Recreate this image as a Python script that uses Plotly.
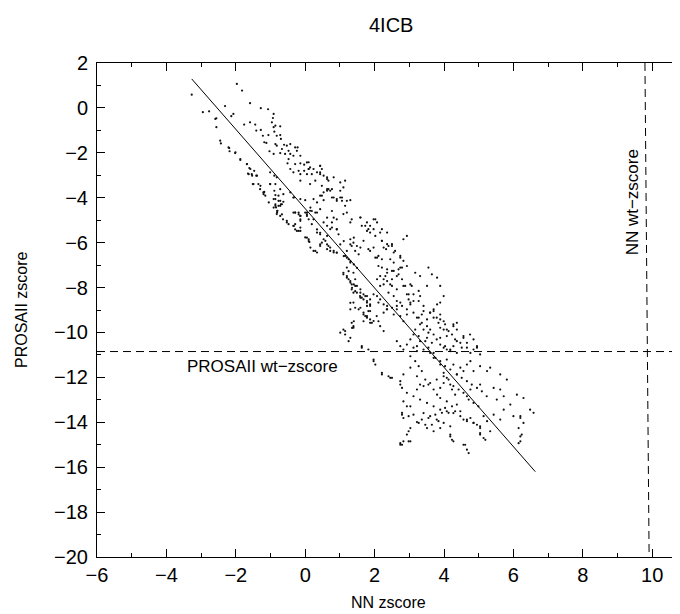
import plotly.graph_objects as go

# ---- data (NN zscore, PROSAII zscore) ----
nn_z = [
 -3.27,-1.97,-1.82,-2.31,-1.59,-2.95,-2.77,-2.56,-2.07,-2.13,-1.28,-1.07,-0.91,-0.93,-1.76,-1.59,-1.44,
 -0.96,-0.86,-0.91,-0.72,-2.56,-1.28,-1.41,-0.89,-0.82,-0.72,-0.70,-1.22,-1.06,-1.18,-1.12,-2.45,-2.43,
 -0.86,-0.82,-0.61,-0.53,-0.48,-0.67,-0.72,-0.58,-0.43,-0.34,-0.24,-0.22,-2.19,-2.18,-2.02,-1.03,-0.91,
 -1.87,-0.48,-0.51,-0.29,-0.14,-0.03,0.10,0.14,-1.68,-1.61,-1.65,-1.54,-1.47,-1.41,-1.01,-0.89,-0.82,
 -0.43,-0.34,-0.19,-0.14,-0.03,0.10,0.05,0.19,0.34,0.43,0.48,0.43,0.63,0.67,0.82,1.01,1.10,1.15,
 -1.51,-1.35,-1.30,-1.20,-1.01,-0.86,-0.89,-0.72,-0.77,-0.86,-0.72,-0.63,-0.43,-0.34,-0.14,0.00,0.24,
 0.43,0.53,0.63,0.77,0.82,0.91,1.01,1.06,1.20,1.30,
 -1.20,-1.18,-0.86,-0.77,-0.86,-0.84,-0.80,-0.70,-0.63,-0.82,-0.64,
 -0.53,-0.48,-0.34,-0.29,-0.24,-0.14,-0.34,-0.19,-0.14,0.00,0.05,
 0.00,0.10,0.12,0.24,0.34,0.43,0.48,0.58,0.63,0.67,0.72,0.82,0.91,0.63,0.72,0.77,0.91,0.96,0.53,0.34,
 0.43,0.24,0.29,0.14,
 -0.14,0.14,0.29,0.48,0.53,0.63,0.72,0.77,0.91,1.01,1.06,1.15,1.20,1.10,1.30,1.34,1.59,1.63,1.78,1.97,
 2.07,1.82,1.87,2.02,2.16,2.21,2.36,2.33,2.50,2.59,2.74,2.83,2.93,2.74,2.55,2.45,2.83,2.93,2.21,2.11,
 2.02,1.87,1.82,1.68,1.39,1.30,1.34,1.49,1.59,
 1.15,1.25,1.30,1.20,1.39,1.44,1.49,1.59,1.34,1.25,1.10,1.39,1.59,1.68,1.78,1.87,1.97,2.07,2.11,2.26,
 2.36,2.50,2.64,2.74,2.88,2.93,2.64,2.50,2.36,2.26,2.16,2.11,2.21,2.36,2.55,2.69,2.79,1.78,1.87,1.68,
 1.78,1.87,1.34,1.39,
 1.59,1.73,1.78,1.87,2.02,1.97,2.21,2.36,2.21,2.26,2.40,2.50,1.97,2.07,2.55,2.74,2.79,2.69,2.50,2.36,
 2.31,2.50,2.45,2.26,2.16,2.07,2.64,2.83,3.03,3.07,2.98,3.12,3.27,3.31,3.27,3.12,3.03,2.98,3.17,3.31,
 3.55,3.65,3.80,3.51,3.89,3.99,3.89,3.80,3.70,3.60,3.41,3.36,3.22,3.70,3.89,3.99,3.84,3.89,4.08,4.27,
 4.37,3.51,3.31,3.17,3.41,3.55,2.83,2.74,2.93,2.55,2.64,2.36,1.87,1.78,1.82,1.73,1.68,1.92,2.11,2.26,
 1.59,1.63,1.73,1.59,
 1.30,1.63,1.82,2.64,2.74,2.83,2.93,3.03,3.12,3.22,3.31,3.51,3.55,3.70,3.89,3.99,4.08,4.18,4.27,4.37,
 4.47,4.56,4.66,4.76,4.85,4.95,5.04,
 1.97,2.02,2.21,2.45,2.74,2.79,2.93,3.03,3.17,3.27,3.36,3.22,3.46,3.55,3.31,3.70,3.80,3.89,3.99,4.08,
 4.18,4.23,4.32,4.37,4.47,4.56,4.66,4.76,4.85,5.04,5.24,5.33,5.62,5.81,5.43,5.62,5.72,5.52,3.70,3.89,
 4.08,4.27,3.99,3.03,2.83,2.74,3.89,4.08,4.66,4.76,5.04,
 2.83,2.93,2.79,2.83,2.98,3.12,3.22,3.27,3.36,3.46,3.55,3.65,3.75,3.84,3.94,4.03,4.13,4.23,4.32,4.37,
 4.47,4.56,4.66,4.76,4.85,4.95,5.04,5.04,5.14,5.24,3.51,3.70,3.89,3.03,2.93,2.83,2.74,2.98,4.18,4.23,
 4.61,4.66,4.71,5.14,5.33,5.43,5.62,6.00,6.20,6.15,6.24,6.20,6.48,6.58,6.29,6.10,5.91,5.72,
 2.79,2.74,2.98,3.03,2.79,4.18,4.27,4.56,5.04,5.19,6.20,6.29,6.20,6.15,
 1.01,1.15,1.25,1.39,1.10,1.97,2.21,2.40,2.50,1.63,
 1.10,1.20,1.30,1.44,1.34,1.49,1.58,1.68,1.78,1.87,1.39,1.30,1.54,1.68,1.78,1.87,1.97,2.16,2.06,2.26,
 2.35,2.16,2.40,2.55,2.64,2.79,2.93,3.03,3.12,3.27,3.36,3.51,3.60,3.70,3.79,3.65,3.89,4.03,4.18,4.37,
 4.51,4.66,4.85,4.95,4.32,4.08,3.99,4.27,4.37,3.79,3.60,3.41,3.70,3.89,4.03,4.13,4.23,4.56,4.75,3.12,
 3.27,3.46,3.22,3.41,3.60,3.75,3.89,4.03,4.18,4.37,4.51,4.66,4.80,4.95,5.09,5.23,3.99,4.13,4.27,4.42,
 4.56,4.71,4.85,4.99,3.79,3.60,3.41,3.22,3.12,3.03,3.31,3.51,3.70,3.89,4.08,4.27,4.47,4.66,4.85,5.04,
 3.60,3.79,3.99,4.18,3.41,
 -0.91,-0.81,-0.72,-0.67,-0.53,-0.33,-0.29,-0.19,-0.14,0.05,0.10,0.15,0.29,0.43,0.53,0.63,0.43,0.34,
 0.19,0.10,-0.14,-0.19,-0.29,-0.14,0.05,0.19,0.34,0.43,0.63,0.77,0.82,0.91,0.77,0.91,0.63,0.72,0.82,
 0.91,1.01,1.11,1.20,1.30,1.40,1.44,1.54,1.11,1.20,1.30,1.40,1.49,1.25,1.20,1.30,1.35,1.40,1.44,1.30,
 1.44,1.40,1.35,1.15,
 -2.59,-2.21,-2.01,-1.87,-1.68,-1.58,-1.63,-1.53,-1.39,-1.49,-1.29,-1.20,-1.15,-1.01,-1.05,-0.91,-0.86,
 -0.81,-0.77,-0.72,-0.67,
 -0.43,-0.29,-0.14,0.05,0.10,0.24,0.43,0.43,0.53,0.63,0.67,0.48,0.34,0.15,0.05,-0.14,-0.29,-0.33,
]
prosa_z = [
 0.59,1.07,0.77,0.08,0.21,-0.19,-0.15,-0.46,-0.27,-0.37,-0.01,-0.06,-0.27,-0.45,-0.74,-0.64,-0.74,
 -0.64,-0.79,-0.86,-0.82,-0.86,-0.98,-1.01,-1.06,-1.24,-1.21,-1.38,-1.24,-1.21,-1.53,-1.56,-1.46,-1.58,
 -1.61,-1.68,-1.64,-1.68,-1.91,-1.83,-2.01,-2.05,-2.05,-2.13,-1.91,-1.76,-1.79,-1.93,-2.01,-1.93,-2.05,
 -2.32,-2.28,-2.47,-2.50,-2.47,-2.53,-2.42,-2.65,-2.50,-2.68,-2.92,-2.95,-2.80,-3.02,-2.87,-3.02,-3.09,
 -2.72,-2.87,-2.80,-2.95,-2.80,-2.72,-2.95,-2.95,-2.87,-2.58,-2.72,-2.95,-3.09,-3.24,-3.09,-3.32,-3.54,-3.24,
 -3.39,-3.39,-3.62,-3.76,-3.39,-3.39,-3.69,-3.62,-3.91,-4.06,-4.14,-3.84,-3.76,-3.99,-4.06,-4.11,-4.06,
 -3.91,-4.11,-3.69,-3.62,-3.99,-4.06,-3.69,-3.99,-4.14,-4.11,
 -3.84,-3.74,-3.88,-4.14,-4.29,-4.43,-4.58,-4.29,-4.18,-4.73,-4.96,
 -5.10,-5.18,-5.25,-5.18,-5.48,-5.48,-4.66,-4.66,-4.96,-4.66,-4.81,
 -5.77,-5.85,-5.97,-6.37,-6.44,-6.15,-6.00,-5.92,-6.29,-6.15,-6.37,-6.44,-6.44,-5.25,-5.40,-5.10,-5.40,
 -5.63,-5.10,-5.55,-5.63,-4.96,-4.66,-4.58,
 -3.24,-3.39,-3.24,-3.47,-3.76,-3.62,-3.69,-3.99,-4.14,-3.99,-4.14,-4.36,-4.66,-4.73,-5.10,-4.96,-4.88,
 -5.25,-5.10,-4.96,-5.10,-5.40,-5.55,-5.70,-5.55,-5.92,-6.07,-6.29,-6.15,-6.37,-6.59,-6.81,-7.04,-7.11,
 -6.89,-6.74,-5.85,-5.70,-6.74,-6.59,-6.67,-6.37,-6.29,-5.92,-6.00,-5.85,-6.15,-6.15,-6.22,
 -6.59,-6.74,-6.89,-7.11,-7.34,-7.63,-7.93,-8.08,-7.86,-7.63,-7.41,-8.23,-8.45,-8.30,-8.38,-8.53,-8.30,
 -8.38,-8.67,-8.75,-8.97,-8.90,-8.82,-8.67,-7.93,-8.30,-8.08,-7.93,-7.71,-7.63,-7.49,-7.04,-7.11,-7.19,
 -7.26,-7.41,-7.63,-8.82,-9.05,-9.12,-9.27,-9.42,-9.57,-9.79,
 -4.88,-5.25,-5.48,-5.25,-4.96,-5.40,-5.40,-5.55,-5.92,-6.22,-6.15,-6.07,-6.22,-6.67,-6.44,-6.67,-7.11,
 -7.19,-7.26,-7.34,-7.49,-7.63,-7.86,-7.86,-7.93,-7.63,-7.49,-7.93,-7.86,-7.93,-8.30,-8.30,-8.15,-8.38,
 -8.60,-8.60,-8.75,-8.53,-7.34,-7.49,-7.11,-7.41,-7.56,-7.93,-7.93,-8.38,-8.67,-8.75,-9.05,-9.12,-9.05,
 -9.20,-9.34,-9.34,-9.20,-9.50,-9.57,-9.79,-9.87,-9.64,-9.87,-9.42,-9.64,-9.87,-9.87,-10.01,-9.50,-9.27,
 -9.20,-9.20,-8.97,-8.82,-8.75,-8.60,-9.05,-9.27,-9.50,-9.57,-9.50,-9.94,-8.23,-8.45,-8.38,-8.90,
 -10.24,-10.61,-10.76,-10.39,-10.61,-10.76,-10.54,-10.31,-10.68,-10.83,-10.39,-10.24,-10.68,-10.91,
 -10.24,-10.68,-10.76,-10.83,-10.61,-10.39,-10.46,-10.24,-10.68,-10.91,-10.76,-10.68,-10.98,
 -11.28,-11.43,-11.80,-12.02,-12.32,-12.47,-12.69,-11.06,-11.28,-11.50,-11.72,-11.95,-12.10,-12.32,
 -12.32,-12.54,-12.77,-12.47,-12.25,-12.02,-12.32,-12.54,-12.77,-11.87,-11.57,-11.72,-11.43,-11.28,
 -11.72,-11.50,-11.72,-11.57,-11.87,-12.10,-12.47,-12.54,-12.84,-12.99,-11.13,-11.43,-11.21,-11.43,
 -11.80,-11.57,-11.87,-12.17,-12.92,-13.07,-12.84,-12.54,-12.32,
 -13.07,-13.29,-13.58,-13.81,-13.73,-13.66,-13.99,-14.03,-13.88,-14.11,-13.81,-14.11,-13.66,-13.95,
 -13.58,-13.36,-13.58,-13.29,-13.51,-13.21,-13.51,-13.88,-13.95,-13.81,-14.03,-14.11,-14.26,-14.55,
 -13.73,-13.95,-14.26,-14.40,-14.26,-14.26,-14.55,-14.85,-15.00,-14.85,-14.55,-14.78,-15.00,-15.22,
 -15.37,-14.70,-14.40,-13.66,-13.88,-13.73,-13.81,-14.26,-14.55,-14.85,-13.44,-13.58,-12.92,-12.77,
 -13.21,-13.44,
 -13.66,-14.93,-14.40,-14.85,-15.00,-14.63,-14.85,-15.00,-14.48,-14.78,-13.73,-14.03,-14.63,-14.93,
 -10.01,-10.09,-10.39,-9.72,-9.87,-11.21,-11.87,-11.95,-12.02,-10.68,
 -7.34,-7.56,-7.78,-7.93,-8.08,-8.23,-8.38,-8.53,-8.67,-8.82,-8.67,-8.97,-8.97,-9.20,-9.34,-9.57,-9.49,
 -9.72,-9.27,-9.12,-8.97,-8.53,-8.23,-8.38,-8.60,-8.82,-8.97,-8.67,-9.12,-9.34,-9.57,-9.72,-9.87,-10.09,
 -10.31,-10.46,-10.54,-10.61,-10.76,-10.91,-10.68,-10.46,-10.31,-10.61,-10.31,-10.16,-9.87,-9.72,-9.57,
 -9.34,-9.12,-8.82,-8.97,-9.42,-9.64,-9.94,-10.09,-10.16,-10.09,-10.09,-10.16,-10.39,-10.61,-10.76,
 -10.91,-11.13,-11.28,-11.50,-11.65,-11.87,-12.02,-12.17,-12.32,-12.47,-12.62,-12.84,-11.95,-12.10,
 -12.39,-12.54,-12.69,-12.99,-13.14,-13.29,-12.10,-12.25,-12.39,-12.54,-12.84,-13.29,-12.99,-13.14,
 -13.29,-13.44,-13.51,-13.59,-13.73,-13.88,-14.03,-14.18,-13.73,-13.88,-14.03,-14.18,-13.59,
 -4.44,-4.59,-4.36,-4.74,-5.03,-5.26,-5.41,-5.48,-5.33,-5.78,-5.93,-6.22,-6.37,-6.08,-5.85,-5.70,-5.56,
 -5.41,-5.18,-4.96,-5.03,-4.74,-4.66,-4.81,-4.74,-4.59,-4.66,-4.51,-4.89,-4.59,-4.89,-4.96,-5.33,-5.41,
 -6.08,-6.22,-6.37,-6.45,-6.08,-5.93,-6.37,-6.08,-5.78,-6.37,-6.52,-6.60,-6.67,-6.82,-6.97,-7.12,-7.27,
 -7.49,-7.71,-8.01,-7.86,-8.16,-8.68,-8.90,-9.50,-9.80,-9.94,
 -0.49,-1.76,-1.98,-2.28,-2.50,-2.72,-2.95,-3.02,-3.02,-3.39,-3.47,-3.77,-3.91,-3.39,-4.21,-4.06,-4.36,
 -4.66,-4.36,-4.81,-4.29,
 -1.61,-1.76,-2.13,-2.43,-2.72,-2.72,-2.58,-2.87,-3.02,-3.17,-3.62,-3.91,-4.21,-4.44,-4.66,-4.81,-4.66,-3.99,
]

# fitted line end points
fit_x = [-3.27, 6.63]
fit_y = [1.29, -16.2]

# wild-type reference values
prosa_wt = -10.85
nn_wt_x = [9.79, 9.91]
nn_wt_y = [2.0, -20.0]

x_ticks = [-6, -4, -2, 0, 2, 4, 6, 8, 10]
y_ticks = [2, 0, -2, -4, -6, -8, -10, -12, -14, -16, -18, -20]

FONT = "Liberation Sans, Arial, Helvetica, sans-serif"
n = min(len(nn_z), len(prosa_z))

# plot box inside the figure (page is offset by the 8px body margin)
L, T, B = 89, 55, 65
PH = 614 - T - B
PW = 680 - L - 8

fig = go.Figure()
fig.add_trace(go.Scatter(
    x=nn_z[:n], y=prosa_z[:n], mode="markers",
    marker=dict(size=2.2, color="#111111", line=dict(width=0)),
    hoverinfo="skip", showlegend=False))
fig.add_trace(go.Scatter(
    x=fit_x, y=fit_y, mode="lines",
    line=dict(color="black", width=1), showlegend=False))
fig.add_trace(go.Scatter(
    x=[-6, 10.8], y=[prosa_wt, prosa_wt], mode="lines",
    line=dict(color="black", width=1, dash="8px,5px"), showlegend=False))
fig.add_trace(go.Scatter(
    x=nn_wt_x, y=nn_wt_y, mode="lines",
    line=dict(color="black", width=1, dash="8px,5px"), showlegend=False))

fig.add_annotation(x=-1.24, y=-11.52, text="PROSAII wt\u2212zscore", showarrow=False,
                   font=dict(family=FONT, size=17, color="black"))
fig.add_annotation(x=9.42, y=-4.2, text="NN wt\u2212zscore", showarrow=False, textangle=-90,
                   font=dict(family=FONT, size=17, color="black"))

# title and axis titles as paper-positioned text
fig.add_annotation(xref="paper", yref="paper", x=0.505, y=1 + (T - 17) / PH, yanchor="middle",
                   text="4ICB", showarrow=False, font=dict(family=FONT, size=20, color="black"))
fig.add_annotation(xref="paper", yref="paper", x=0.5, y=-(594 - (614 - B)) / PH, yanchor="middle",
                   text="NN zscore", showarrow=False, font=dict(family=FONT, size=16, color="black"))
fig.add_annotation(xref="paper", yref="paper", x=-(L - 13) / PW, y=0.5, xanchor="center",
                   text="PROSAII zscore", showarrow=False, textangle=-90,
                   font=dict(family=FONT, size=16, color="black"))

axis_common = dict(
    showline=True, linecolor="black", linewidth=1, mirror="ticks",
    ticks="inside", ticklen=8, tickcolor="black", tickwidth=1,
    showgrid=False, zeroline=False, automargin=False,
    tickfont=dict(family=FONT, size=20, color="black"),
    minor=dict(ticks="inside", ticklen=4, tickcolor="black", dtick=1, showgrid=False),
)

fig.update_layout(
    width=680, height=614,
    margin=dict(l=L, r=8, t=T, b=B, autoexpand=False),
    paper_bgcolor="white", plot_bgcolor="white",
    xaxis=dict(range=[-6, 10.8], tickvals=x_ticks, **axis_common),
    yaxis=dict(range=[-20, 2], tickvals=y_ticks, ticklabelstandoff=4, **axis_common),
)

fig.write_html("out.html")
